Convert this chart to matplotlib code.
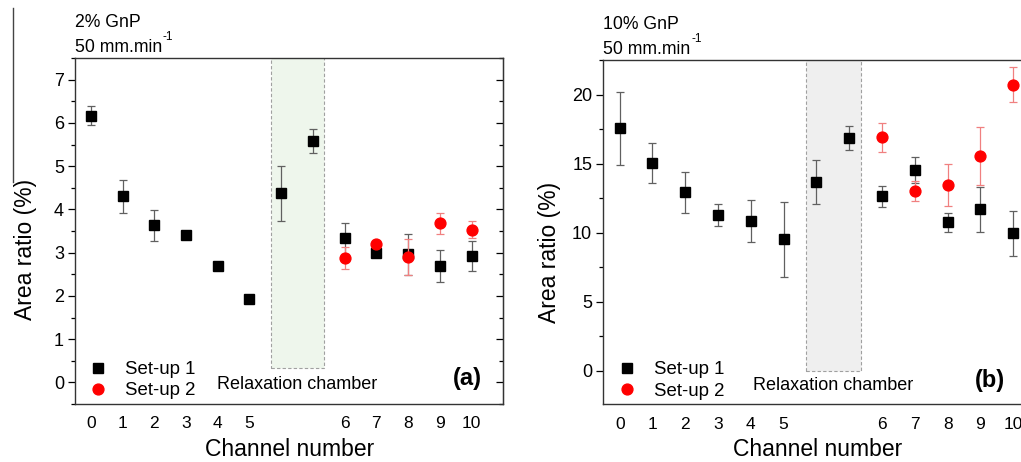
import matplotlib
matplotlib.use("Agg")
import matplotlib.pyplot as plt
from matplotlib.lines import Line2D
from matplotlib.patches import Rectangle
import numpy as np

plt.rcParams['font.family'] = ['Liberation Sans', 'DejaVu Sans']

# ---------------- data ----------------
channels = [0, 1, 2, 3, 4, 5, 6, 7, 8, 9, 10]
tick_labels = [str(c) for c in channels]

# panel (a) 2% GnP
a_s1 = [6.17, 4.30, 3.63, 3.41, 2.68, 1.92, 3.33, 3.00, 2.96, 2.69, 2.92]
a_s1_err = [0.21, 0.38, 0.35, 0.05, 0.04, 0.04, 0.36, 0.05, 0.47, 0.38, 0.35]
a_chamber = [4.37, 5.58]
a_chamber_err = [0.64, 0.27]
a_s2_channels = [6, 7, 8, 9, 10]
a_s2 = [2.87, 3.21, 2.90, 3.68, 3.53]
a_s2_err = [0.26, 0.06, 0.41, 0.24, 0.19]

# panel (b) 10% GnP
b_s1 = [17.56, 15.05, 12.93, 11.27, 10.85, 9.51, 12.62, 14.55, 10.74, 11.68, 9.94]
b_s1_err = [2.65, 1.43, 1.48, 0.80, 1.50, 2.70, 0.78, 0.95, 0.67, 1.62, 1.60]
b_chamber = [13.68, 16.84]
b_chamber_err = [1.60, 0.86]
b_s2_channels = [6, 7, 8, 9, 10]
b_s2 = [16.91, 13.00, 13.46, 15.56, 20.72]
b_s2_err = [1.05, 0.74, 1.54, 2.08, 1.25]

W, H = 1021, 462
fig = plt.figure(figsize=(W / 100, H / 100), dpi=100)


def pos(c):
    # channels 0-5 before the relaxation chamber, 6-10 after it
    return c if c <= 5 else c + 2


chamber_pos = [6, 7]


def panel(rect, s1, s1e, ch, che, s2c, s2, s2e, ylim, major, minor, title,
          shade_color, shade_bottom, text_y, right_ticks, xlab_x, ylab_x, ylab_y):
    ax = fig.add_axes(rect)
    ax.add_patch(Rectangle((5.68, shade_bottom), 7.35 - 5.68, ylim[1] + 5 - shade_bottom,
                           facecolor=shade_color, edgecolor='#a0a0a0', linestyle=(0, (3, 2)),
                           linewidth=0.8, zorder=1))
    x1 = [pos(c) for c in channels]
    ax.errorbar(x1, s1, yerr=s1e, fmt='s', color='black', ms=7.4, ecolor='#606060',
                elinewidth=0.9, capsize=3, capthick=0.9, zorder=3)
    ax.errorbar(chamber_pos, ch, yerr=che, fmt='s', color='black', ms=7.4, ecolor='#606060',
                elinewidth=0.9, capsize=3, capthick=0.9, zorder=3)
    x2 = [pos(c) for c in s2c]
    ax.errorbar(x2, s2, yerr=s2e, fmt='o', color='#ff0000', ms=7.8, ecolor='#f08080',
                elinewidth=0.9, capsize=3, capthick=0.9, zorder=4)
    ax.set_xlim(-0.5, 13.0)
    ax.set_ylim(*ylim)
    ax.set_xticks(x1)
    ax.set_xticklabels(tick_labels)
    ax.set_yticks(major)
    ax.set_yticks(minor, minor=True)
    ax.tick_params(axis='x', length=0, labelsize=12.5, pad=9)
    ax.tick_params(axis='y', which='both', direction='out', labelsize=13, width=0.9,
                   right=False, pad=3)
    ax.tick_params(axis='y', which='major', length=5)
    ax.tick_params(axis='y', which='minor', length=3)
    if right_ticks:
        # right side ticks point inward
        ax2 = ax.secondary_yaxis('right')
        ax2.set_yticks(major)
        ax2.set_yticks(minor, minor=True)
        ax2.tick_params(which='both', direction='in', labelright=False, width=0.9)
        ax2.tick_params(which='major', length=5)
        ax2.tick_params(which='minor', length=3)
    for s in ax.spines.values():
        s.set_linewidth(1.0)
        s.set_color('#333333')
    ax.set_xlabel('Channel number', fontsize=16.5, va='center')
    ax.xaxis.set_label_coords(xlab_x, -0.132)
    ax.set_ylabel('Area ratio (%)', fontsize=16.5, va='center')
    ax.yaxis.set_label_coords(ylab_x, ylab_y)
    ax.text(0.0, 1.103, title, transform=ax.transAxes, fontsize=12.7, ha='left', va='center')
    t = ax.text(0.0, 1.03, '50 mm.min', transform=ax.transAxes, fontsize=12.7,
                ha='left', va='center')
    ax.annotate('-1', xy=(1.0, 0.78), xycoords=t, fontsize=8.5, ha='left', va='bottom',
                xytext=(0.5, 0), textcoords='offset points')
    ax.text(6.5, text_y, 'Relaxation chamber', fontsize=13, ha='center', va='center', zorder=5)
    handles = [Line2D([], [], marker='s', color='black', ls='none', ms=7.4),
               Line2D([], [], marker='o', color='#ff0000', ls='none', ms=7.8)]
    ax.legend(handles, ['Set-up 1', 'Set-up 2'], loc='lower left', frameon=False,
              fontsize=13.4, handlelength=1.0, handletextpad=0.95, labelspacing=0.22,
              borderaxespad=0.0, bbox_to_anchor=(0.015, -0.008))
    return ax


axa = panel([75 / W, 1 - 404 / H, (503.3 - 75) / W, (404 - 58) / H],
            a_s1, a_s1_err, a_chamber, a_chamber_err, a_s2_channels, a_s2, a_s2_err,
            (-0.48, 7.5), [0, 1, 2, 3, 4, 5, 6, 7], np.arange(-0.5, 7.6, 0.5),
            '2% GnP', '#eef6ec', 0.33, -0.05, True, 0.502,
            (26 - 75) / 428.3, (404 - 249) / 346)
axa.text(0.915, 0.075, '(a)', transform=axa.transAxes, fontsize=17, fontweight='bold',
         ha='center', va='center')

axb = panel([603.3 / W, 1 - 404.3 / H, (1046 - 603.3) / W, (404.3 - 60) / H],
            b_s1, b_s1_err, b_chamber, b_chamber_err, b_s2_channels, b_s2, b_s2_err,
            (-2.43, 22.5), [0, 5, 10, 15, 20], np.arange(0, 22.6, 2.5),
            '10% GnP', '#efefef', 0.0, -1.05, False, 0.485,
            (549 - 603.3) / 442.7, (404.3 - 252) / 344.3)
axb.text((990 - 603.3) / 442.7, 0.07, '(b)', transform=axb.transAxes, fontsize=17,
         fontweight='bold', ha='center', va='center')

# thin vertical border remnant at the far left of the picture
fig.add_artist(Line2D([13 / W, 13 / W], [1 - 8 / H, 1 - 182 / H], color='#444444', lw=1.0))

fig.savefig('out.png', dpi=100)
